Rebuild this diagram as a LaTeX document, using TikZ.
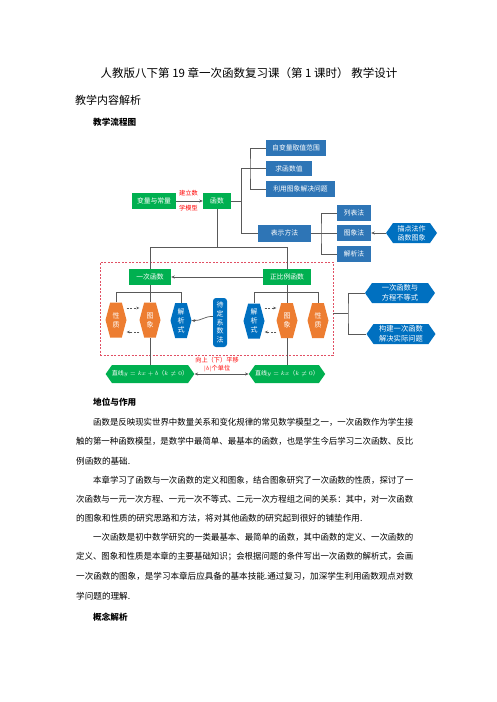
\documentclass[tikz,border=0pt]{standalone}
\usepackage{fontspec}
\usepackage{graphicx}
\setmainfont{Noto Sans CJK SC}
\usetikzlibrary{arrows.meta,shapes.symbols,calc}
\definecolor{cgreen}{RGB}{0,176,80}
\definecolor{cblue}{RGB}{46,117,182}
\definecolor{cdblue}{RGB}{0,112,192}
\definecolor{corange}{RGB}{237,125,49}
\definecolor{cline}{RGB}{89,89,89}
\definecolor{cred}{RGB}{255,0,0}
\definecolor{cdash}{RGB}{225,80,100}
\newcommand\fs[2]{\fontsize{#1pt}{#2pt}\selectfont}
\tikzset{
  box/.style={rectangle, inner sep=0pt, text=white, font=\fs{6.8}{8}, align=center},
  gbox/.style={box, fill=cgreen},
  bbox/.style={box, fill=cblue},
  hexh/.style={signal, signal to=east and west, signal pointer angle=110, inner sep=0pt, text=white, align=center, font=\fs{7.3}{10}},
  hexv/.style={signal, signal to=east and west, signal pointer angle=150, inner sep=0pt, text=white, align=center, font=\fs{7}{9}, minimum width=21, minimum height=35},
  conn/.style={draw=cline, line width=0.7pt},
  arr/.style={conn, -{Stealth[length=3.5pt,width=3pt]}},
  darr/.style={conn, line width=0.6pt, dash pattern=on 2pt off 1.5pt, -{Stealth[length=3pt,width=2.6pt]}},
  redlab/.style={text=cred, font=\fs{6.2}{7}, inner sep=0pt},
  body/.style={anchor=west, inner sep=0pt, font=\fs{8.6}{10}},
  bodyb/.style={anchor=west, inner sep=0pt, font=\fs{8.6}{10}\bfseries}
}
\begin{document}
\begin{tikzpicture}[x=1pt,y=-1pt]
\useasboundingbox (0,0) rectangle (496,702);
\fill[white] (0,0) rectangle (496,702);

% headings
\node[inner sep=0pt, font=\fs{11.5}{13}] (title) at (249,73) {人教版八下第 19 章一次函数复习课（第 1 课时） 教学设计};
\node[anchor=west, inner sep=0pt, font=\fs{11}{13}] (sec) at (75,100) {教学内容解析};
\node[anchor=west, inner sep=0pt, font=\fs{8.6}{10}\bfseries] (flow) at (93,122) {教学流程图};

% top part
\node[gbox, minimum width=44, minimum height=16] (bl) at (154,201) {变量与常量};
\node[gbox, minimum width=28, minimum height=16] (hs) at (217,201) {函数};
\node[redlab] (lab1) at (188.5,193.5) {建立数};
\node[redlab] (lab2) at (188.5,208.5) {学模型};
\node[bbox, minimum width=60, minimum height=16] (a1) at (296,148) {自变量取值范围};
\node[bbox, minimum width=46, minimum height=15] (a2) at (289,168.5) {求函数值};
\node[bbox, minimum width=69, minimum height=16] (a3) at (300.5,189) {利用图象解决问题};
\node[bbox, minimum width=53, minimum height=17] (bs) at (284.5,233) {表示方法};
\node[bbox, minimum width=34, minimum height=16] (b1) at (354,213) {列表法};
\node[bbox, minimum width=34, minimum height=16] (b2) at (354,233) {图象法};
\node[bbox, minimum width=34, minimum height=16] (b3) at (354,254) {解析法};
\node[hexh, fill=cdblue, minimum width=51, minimum height=20, font=\fs{7}{9}] (mdf) at (411.5,233) {描点法作\\函数图象};

\draw[arr] (bl.east) -- (hs.west);
\coordinate (j1) at (241,201);
\draw[conn] (hs.east) -- (j1);
\draw[conn] (a2.west) -| (j1);
\draw[conn] (bs.west) -| (j1);
\coordinate (k1) at (250,168.5);
\draw[conn] (a1.west) -| (k1) |- (a3.west);
\coordinate (k2) at (321,233);
\draw[conn] (bs.east) -- (k2);
\draw[conn] (b1.west) -| (k2) |- (b3.west);
\draw[conn] (k2) -- (b2.west);
\draw[arr] (mdf.west) -- (b2.east);

% red dashed frame
\node[draw=cdash, dash pattern=on 2pt off 1.5pt, line width=0.6pt, minimum width=233, minimum height=93, inner sep=0pt] (rbox) at (216.5,308.5) {};

\node[gbox, minimum width=42, minimum height=16] (yc) at (150,277) {一次函数};
\node[gbox, minimum width=48, minimum height=16] (zb) at (287,277) {正比例函数};
\coordinate (j2) at (217,247);
\draw[conn] (hs.south) -- (j2);
\draw[conn] (yc.north) |- (j2);
\draw[conn] (zb.north) |- (j2);
\draw[arr] (zb.west) -- (yc.east);

\node[hexv, fill=corange] (xz1) at (116,320) {性\\质};
\node[hexv, fill=corange] (tx1) at (150,320) {图\\象};
\node[hexv, fill=cdblue] (jx1) at (181,320.5) {解\\析\\式};
\node[box, fill=cdblue, rounded corners=3pt, minimum width=14, minimum height=49, font=\fs{7}{8.8}] (dd) at (220,322.5) {待\\定\\系\\数\\法};
\node[hexv, fill=cdblue] (jx2) at (254,321) {解\\析\\式};
\node[hexv, fill=corange] (tx2) at (287,320.5) {图\\象};
\node[hexv, fill=corange] (xz2) at (318,320.5) {性\\质};

\coordinate (j3) at (150,292);
\coordinate (j4) at (287,292);
\draw[conn] (yc.south) -- (tx1.north);
\draw[conn] (xz1.north) -- (xz1.north |- j3) -- (jx1.north |- j3) -- (jx1.north);
\draw[conn] (zb.south) -- (tx2.north);
\draw[conn] (jx2.north) -- (jx2.north |- j4) -- (xz2.north |- j4) -- (xz2.north);

\draw[darr] (xz1.east |- 0,308) -- (tx1.west |- 0,308);
\draw[darr] (tx1.west |- 0,332) -- (xz1.east |- 0,332);
\draw[darr] (jx2.east |- 0,308) -- (tx2.west |- 0,308);
\draw[darr] (tx2.west |- 0,332) -- (jx2.east |- 0,332);
\draw[arr] ([yshift=6pt]dd.west) .. controls (205,316) and (201,321) .. (jx1.east);

% right hexes
\node[hexh, fill=cdblue, minimum width=70, minimum height=20] (r1) at (400,293) {一次函数与\\方程不等式};
\node[hexh, fill=cdblue, minimum width=69, minimum height=20] (r2) at (401,334) {构建一次函数\\解决实际问题};
\coordinate (k3) at (348,313);
\draw[conn] (rbox.east |- k3) -- (k3);
\draw[conn] (r1.west) -| (k3) |- (r2.west);

% bottom hexes
\node[hexh, fill=cgreen, minimum width=82, minimum height=18, font=\fs{6}{7}] (d1) at (150,374) {直线$y=kx+b$（$k\neq0$）};
\node[hexh, fill=cgreen, minimum width=72, minimum height=18, font=\fs{6}{7}] (d2) at (287,374) {直线$y=kx$（$k\neq0$）};
\draw[conn] (tx1.south) -- (d1.north);
\draw[conn] (tx2.south) -- (d2.north);
\draw[conn, {Stealth[length=3.5pt,width=3pt]}-{Stealth[length=3.5pt,width=3pt]}] (d1.east) -- (d2.west);
\node[redlab] (sh1) at (217,360) {向上（下）平移};
\node[redlab] (sh2) at (217,369) {$|b|$个单位};

% body text
\node[bodyb] (h1) at (93,402) {地位与作用};
\node[body] (p1a) at (93,422) {\resizebox{320pt}{\height}{函数是反映现实世界中数量关系和变化规律的常见数学模型之一，一次函数作为学生接}};
\node[body] (p1b) at (76,441.5) {\resizebox{337pt}{\height}{触的第一种函数模型，是数学中最简单、最基本的函数，也是学生今后学习二次函数、反比}};
\node[body] (p1c) at (76,461) {例函数的基础.};
\node[body] (p2a) at (93,480) {\resizebox{320pt}{\height}{本章学习了函数与一次函数的定义和图象，结合图象研究了一次函数的性质，探讨了一}};
\node[body] (p2b) at (76,499.5) {\resizebox{337pt}{\height}{次函数与一元一次方程、一元一次不等式、二元一次方程组之间的关系：其中，对一次函数}};
\node[body] (p2c) at (76,518.5) {的图象和性质的研究思路和方法，将对其他函数的研究起到很好的铺垫作用.};
\node[body] (p3a) at (93,537.5) {\resizebox{320pt}{\height}{一次函数是初中数学研究的一类最基本、最简单的函数，其中函数的定义、一次函数的}};
\node[body] (p3b) at (76,557) {\resizebox{337pt}{\height}{定义、图象和性质是本章的主要基础知识；会根据问题的条件写出一次函数的解析式，会画}};
\node[body] (p3c) at (76,576.5) {\resizebox{337pt}{\height}{一次函数的图象，是学习本章后应具备的基本技能.通过复习，加深学生利用函数观点对数}};
\node[body] (p3d) at (76,596) {学问题的理解.};
\node[bodyb] (h2) at (93,617) {概念解析};
\end{tikzpicture}
\end{document}
